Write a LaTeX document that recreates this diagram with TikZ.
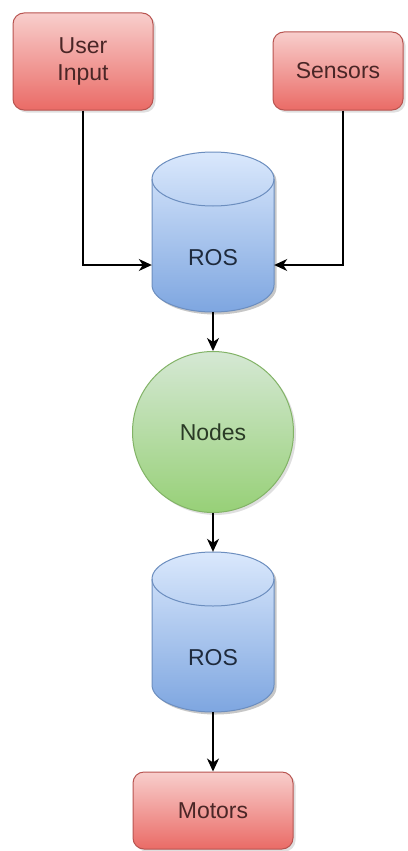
\documentclass[tikz,border=0pt]{standalone}
\usepackage{fontspec}
\setmainfont{Liberation Sans}
\usetikzlibrary{arrows.meta,shadows}
\definecolor{redA}{HTML}{F8CECC}
\definecolor{redB}{HTML}{EA6B66}
\definecolor{redS}{HTML}{B85450}
\definecolor{bluA}{HTML}{DAE8FC}
\definecolor{bluB}{HTML}{7EA6E0}
\definecolor{bluS}{HTML}{6C8EBF}
\definecolor{grnA}{HTML}{D5E8D4}
\definecolor{grnB}{HTML}{97D077}
\definecolor{grnS}{HTML}{82B366}
\definecolor{redT}{HTML}{4A2626}
\definecolor{grnT}{HTML}{2A3A26}
\definecolor{bluT}{HTML}{1E2A3C}
\tikzset{
  redbox/.style={draw=redS, line width=1pt, rounded corners=11pt, top color=redA, bottom color=redB,
    text=redT, align=center, font=\fontsize{23}{27}\selectfont,
    drop shadow={opacity=0.25, shadow xshift=2.5pt, shadow yshift=-2.5pt}},
  circnode/.style={circle, draw=grnS, line width=1pt, top color=grnA, bottom color=grnB,
    text=grnT, font=\fontsize{23}{27}\selectfont, inner sep=0pt,
    drop shadow={opacity=0.25, shadow xshift=2.5pt, shadow yshift=-2.5pt}},
  cylbox/.style={inner sep=0pt},
  cyltext/.style={text=bluT, font=\fontsize{23}{27}\selectfont},
  conn/.style={line width=1.4pt, draw=black, -{Stealth[length=13pt,width=12pt,inset=4pt]}}
}
\newcommand{\mycyl}[4]{% left x, right x, top y, bottom y
  \pgfmathsetmacro{\rx}{(#2-#1)/2}
  \fill[black, opacity=0.22, xshift=2.5, yshift=-2.5] (#1,#3-27) -- (#1,#4+27) arc[start angle=180,end angle=360,x radius=\rx,y radius=27] -- (#2,#3-27) arc[start angle=0,end angle=180,x radius=\rx,y radius=27] -- cycle;
  \draw[draw=bluS, line width=1pt, top color=bluA, bottom color=bluB] (#1,#3-27) -- (#1,#4+27) arc[start angle=180,end angle=360,x radius=\rx,y radius=27] -- (#2,#3-27) arc[start angle=0,end angle=180,x radius=\rx,y radius=27] -- cycle;
  \draw[draw=bluS, line width=1pt] (#1,#3-27) arc[start angle=180,end angle=360,x radius=\rx,y radius=27];
}
\begin{document}
\begin{tikzpicture}[x=1pt,y=1pt]
\useasboundingbox (0,0) rectangle (407,-851);
\fill[white] (0,0) rectangle (407,-851);
% boxes
\node[redbox, minimum width=140pt, minimum height=97pt] (ui) at (83,-61.5) {User\\Input};
\node[redbox, minimum width=130pt, minimum height=78pt] (sen) at (338,-71) {Sensors};
\node[redbox, minimum width=160pt, minimum height=77pt] (mot) at (213,-810.5) {Motors};
% cylinder 1
\mycyl{152}{274}{-152}{-312}
\node[cylbox, minimum width=122pt, minimum height=160pt] (ros1) at (213,-232) {};
\node[cyltext] (ros1t) at (213,-258) {ROS};
% circle
\node[circnode, minimum size=161pt] (nodes) at (213,-432) {Nodes};
% cylinder 2
\mycyl{152}{274}{-552}{-712}
\node[cylbox, minimum width=122pt, minimum height=160pt] (ros2) at (213,-632) {};
\node[cyltext] (ros2t) at (213,-658) {ROS};
% connectors
\draw[conn] (ui.south) |- ([yshift=-33pt]ros1.west);
\draw[conn] ([xshift=5pt]sen.south) |- ([yshift=-33pt]ros1.east);
\draw[conn] (ros1.south) -- (nodes.north);
\draw[conn] (nodes.south) -- (ros2.north);
\draw[conn] (ros2.south) -- (mot.north);
\end{tikzpicture}
\end{document}
